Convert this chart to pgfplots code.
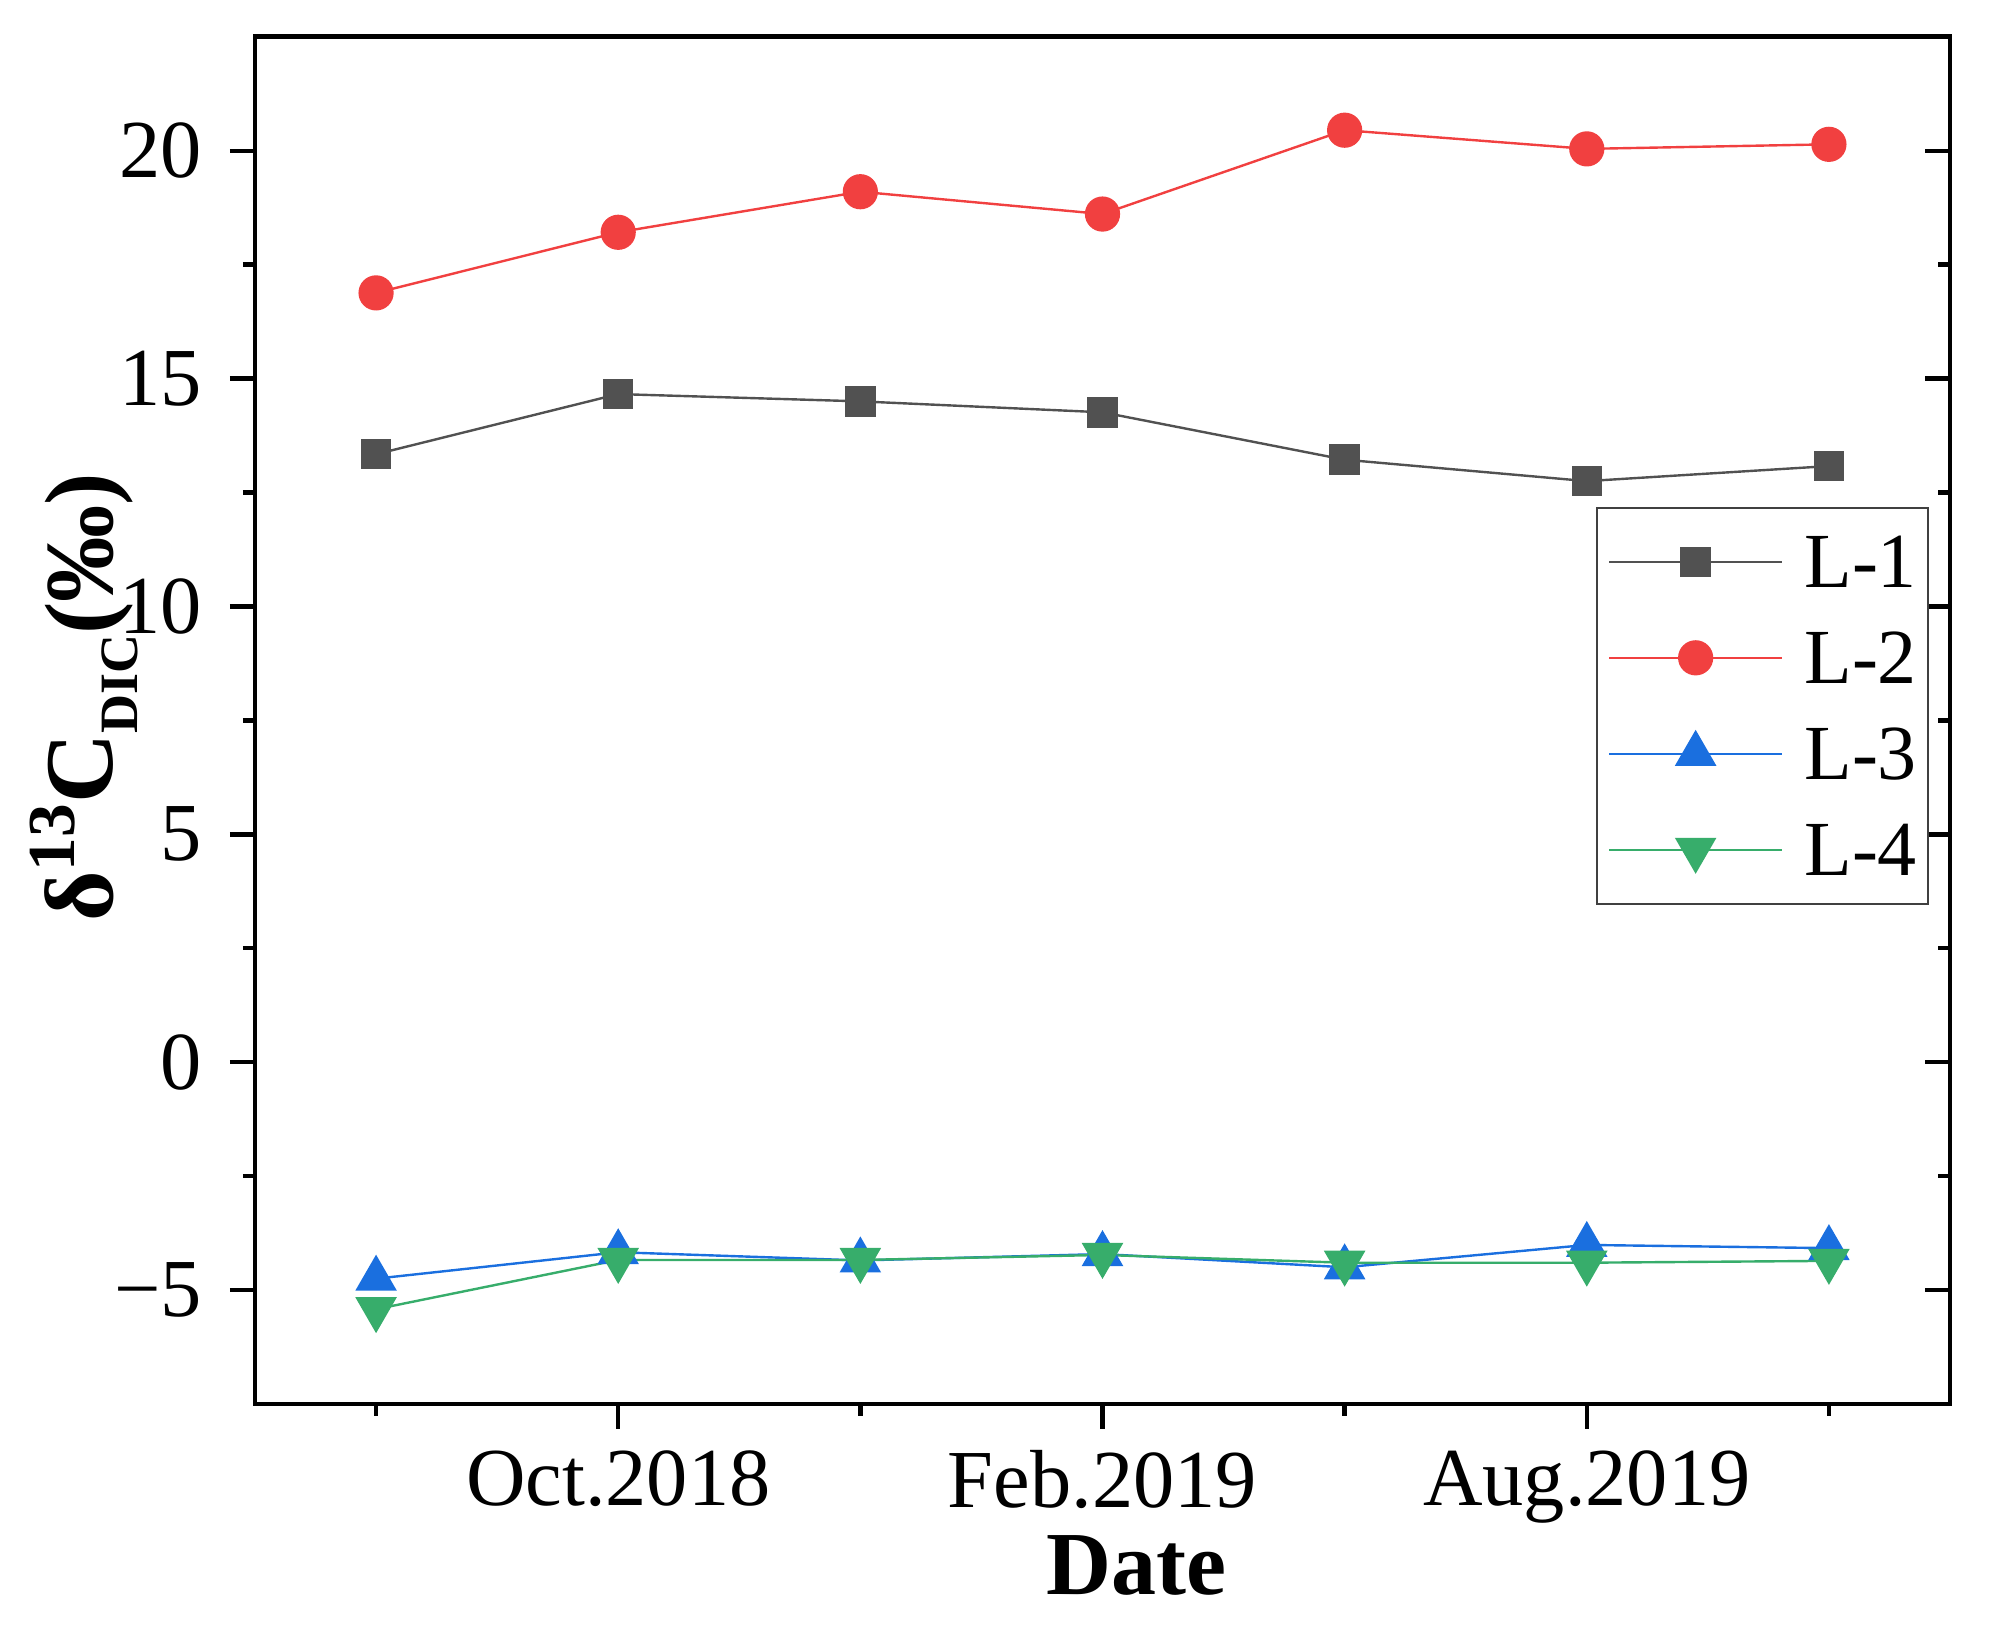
\documentclass[border=0pt]{standalone}
\usepackage{fontspec}
\setmainfont{Liberation Serif}
\usepackage{pgfplots}
\pgfplotsset{compat=1.18}
\definecolor{cA}{HTML}{515151}
\definecolor{cB}{HTML}{F14040}
\definecolor{cC}{HTML}{1A6FDF}
\definecolor{cD}{HTML}{37AD6B}
\begin{document}
\begin{tikzpicture}
\pgfplotsset{common/.style={scale only axis, width=423.75pt, height=341.8pt,
  xmin=0.5, xmax=7.5, ymin=-7.5, ymax=22.5,
  axis line style={line width=1.2pt},
  tick style={line width=1.1pt, black},
  major tick length=6.25pt, minor tick length=3pt}}
\begin{axis}[common, hide x axis, ytick pos=right, tick align=inside,
  ytick={-5,0,5,10,15,20}, minor ytick={-2.5,2.5,7.5,12.5,17.5}, yticklabels={}]
\end{axis}
\begin{axis}[common, xtick pos=bottom, ytick pos=left, tick align=outside,
  xtick={2,4,6}, minor xtick={1,3,5,7}, xticklabels={Oct.2018,Feb.2019,Aug.2019},
  ytick={-5,0,5,10,15,20}, minor ytick={-2.5,2.5,7.5,12.5,17.5},
  yticklabels={−5,0,5,10,15,20},
  tick label style={font=\fontsize{20.6}{20.6}\selectfont},
  yticklabel style={anchor=east, inner sep=0pt, xshift=-6.75pt},
  xticklabel style={anchor=north, inner sep=0pt, yshift=-5.25pt},
  xlabel={\fontsize{22.5}{22.5}\selectfont\bfseries Date},
  xlabel style={at={(axis description cs:0.520,-0.139)}, anchor=base},
  ylabel={\fontsize{24.3}{24.3}\selectfont\bfseries δ\raisebox{9.5pt}{\fontsize{16.8}{16.8}\selectfont 13}C\raisebox{-6.25pt}{\fontsize{13.5}{13.5}\selectfont DIC}(‰)},
  ylabel style={at={(axis description cs:-0.0838,0.517)}, anchor=base},
  legend style={at={(0.9876,0.6562)}, anchor=north east, draw=black!75, line width=0.5pt,
    inner xsep=2.75pt, inner ysep=1.5pt, font=\fontsize{19.5}{19.5}\selectfont,
    nodes={inner xsep=0pt, inner ysep=0pt, text height=18.5pt, text depth=5.5pt},
    /tikz/every odd column/.append style={column sep=5.25pt}, row sep=0pt},
  legend cell align=left,
  legend image code/.code={\draw[mark repeat=2, mark phase=2, line width=0.6pt, #1] plot coordinates {(0pt,0pt) (21.625pt,0pt) (43.25pt,0pt)};},
  ]
\addplot[color=cA, line width=0.6pt, mark=square*, mark size=3.5pt, mark options={solid, fill=cA, draw=cA}]
  coordinates {(1,13.34) (2,14.66) (3,14.50) (4,14.26) (5,13.22) (6,12.75) (7,13.08)};
\addlegendentry{L-1}
\addplot[color=cB, line width=0.6pt, mark=*, mark size=4.1pt, mark options={solid, fill=cB, draw=cB}]
  coordinates {(1,16.88) (2,18.21) (3,19.10) (4,18.61) (5,20.45) (6,20.04) (7,20.14)};
\addlegendentry{L-2}
\addplot[color=cC, line width=0.6pt, mark=triangle*, mark size=5.4pt, mark options={solid, fill=cC, draw=cC}]
  coordinates {(1,-4.75) (2,-4.17) (3,-4.35) (4,-4.21) (5,-4.50) (6,-4.01) (7,-4.08)};
\addlegendentry{L-3}
\addplot[color=cD, line width=0.6pt, mark=triangle*, mark size=5.4pt, mark options={solid, fill=cD, draw=cD, rotate=180}]
  coordinates {(1,-5.42) (2,-4.34) (3,-4.34) (4,-4.23) (5,-4.40) (6,-4.40) (7,-4.36)};
\addlegendentry{L-4}
\end{axis}
\pgfresetboundingbox
\path[use as bounding box] ([shift={(-63.75pt,-57pt)}]current axis.south west) rectangle ([shift={(12pt,9.2pt)}]current axis.north east);
\end{tikzpicture}
\end{document}
